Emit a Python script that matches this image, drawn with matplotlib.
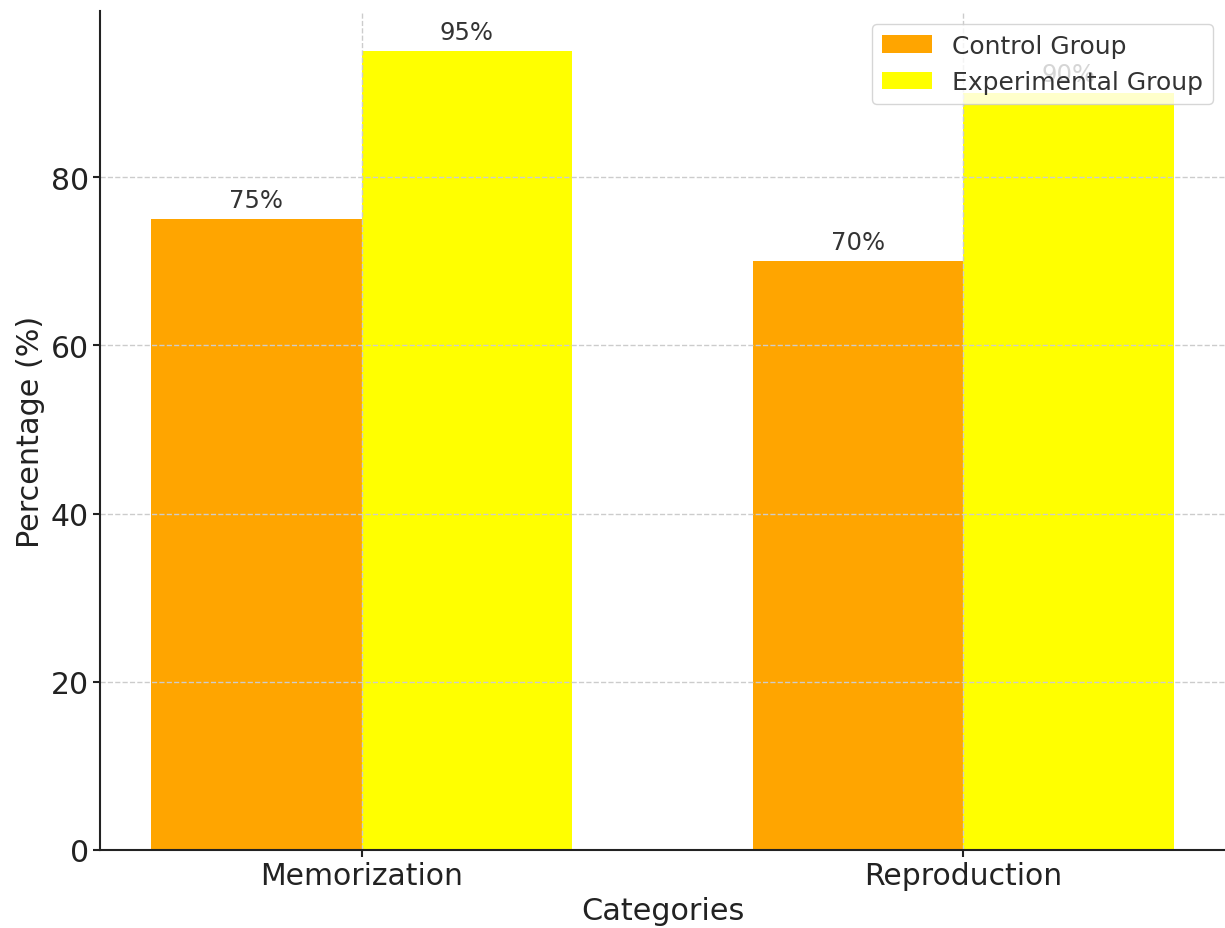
import numpy as np
import matplotlib.pyplot as plt

categories = ['Memorization', 'Reproduction']
control = [75, 70]
experimental = [95, 90]

x = np.arange(len(categories))
width = 0.35

fig = plt.figure(figsize=(12.25, 9.29), dpi=100)
ax = fig.add_axes([0.0816, 0.084, 0.9184, 0.903])

b1 = ax.bar(x - width / 2, control, width, label='Control Group', color='#FFA500')
b2 = ax.bar(x + width / 2, experimental, width, label='Experimental Group', color='#FFFF00')

# value labels above each bar
for bars in (b1, b2):
    for bar in bars:
        h = bar.get_height()
        ax.annotate(f'{h:.0f}%', xy=(bar.get_x() + bar.get_width() / 2, h),
                    xytext=(0, 5), textcoords='offset points',
                    ha='center', va='bottom', fontsize=17.5, color='#333333')

ax.set_xticks(x)
ax.set_xticklabels(categories)
ax.set_xlabel('Categories', fontsize=21.8, color='#222222')
ax.set_ylabel('Percentage (%)', fontsize=21.8, color='#222222')
ax.tick_params(axis='both', labelsize=21.5, colors='#222222', length=5, width=1.5, pad=3)

ax.spines['top'].set_visible(False)
ax.spines['right'].set_visible(False)
ax.spines['left'].set_linewidth(1.5)
ax.spines['bottom'].set_linewidth(1.5)
ax.spines['left'].set_color('#222222')
ax.spines['bottom'].set_color('#222222')

ax.grid(True, linestyle='--', color='#cccccc', linewidth=1)
for bars in (b1, b2):
    for bar in bars:
        bar.set_zorder(1)
ax.xaxis.grid(True, zorder=2)

leg = ax.legend(loc='upper right', fontsize=18, framealpha=0.8, edgecolor='#cccccc')
for t in leg.get_texts():
    t.set_color('#333333')

fig.savefig('out.png', dpi=100)
